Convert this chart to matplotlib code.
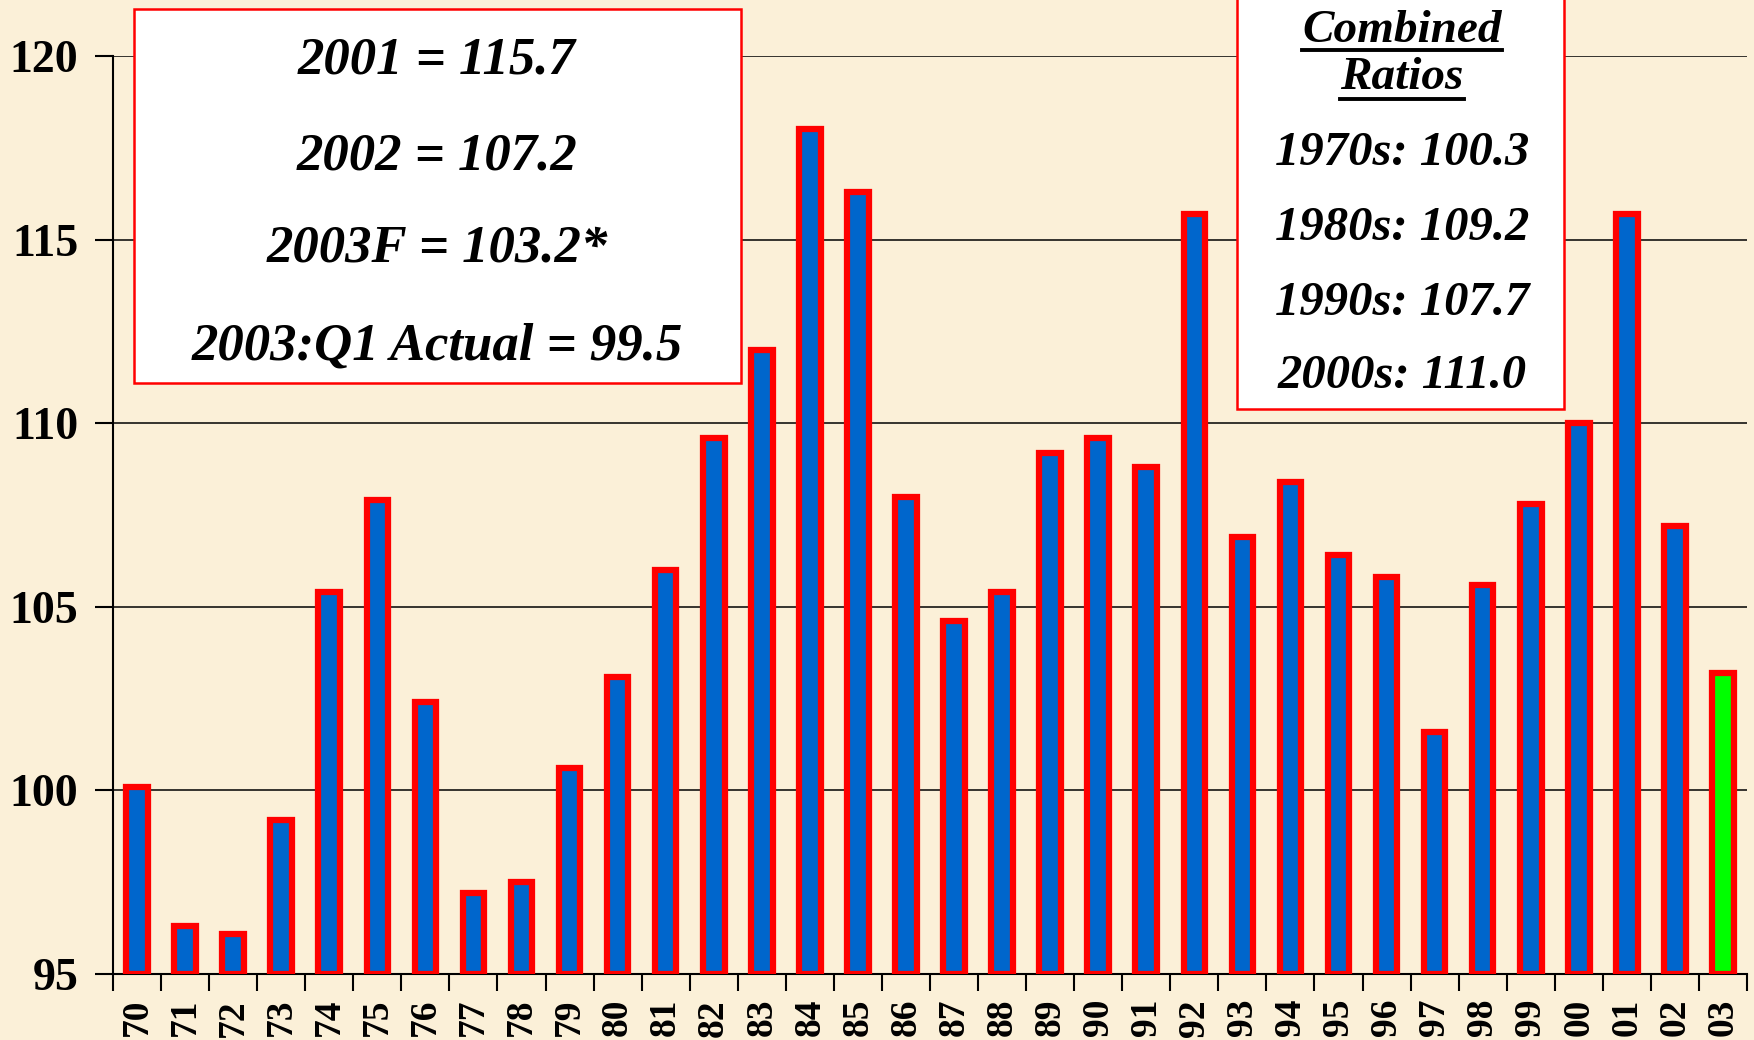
import matplotlib
matplotlib.use("Agg")
import matplotlib.pyplot as plt
from matplotlib.patches import Rectangle
from matplotlib.lines import Line2D

# combined ratios by year (1970 - 2003F)
years = ['70', '71', '72', '73', '74', '75', '76', '77', '78', '79',
         '80', '81', '82', '83', '84', '85', '86', '87', '88', '89',
         '90', '91', '92', '93', '94', '95', '96', '97', '98', '99',
         '00', '01', '02', '03']
ratios = [100.1, 96.3, 96.1, 99.2, 105.4, 107.9, 102.4, 97.2, 97.5, 100.6,
          103.1, 106.0, 109.6, 112.0, 118.0, 116.3, 108.0, 104.6, 105.4, 109.2,
          109.6, 108.8, 115.7, 106.9, 108.4, 106.4, 105.8, 101.6, 105.6, 107.8,
          110.0, 115.7, 107.2, 103.2]
forecast_year = '03'

left_box_lines = ['2001 = 115.7', '2002 = 107.2', '2003F = 103.2*',
                  '2003:Q1 Actual = 99.5']
right_box_title = ['Combined', 'Ratios']
right_box_lines = ['1970s: 100.3', '1980s: 109.2', '1990s: 107.7',
                   '2000s: 111.0']

W, H = 1754, 1040
bg = '#FBF0D8'


def fx(px):
    return px / W


def fy(py):
    return 1 - py / H


fig = plt.figure(figsize=(W / 100, H / 100), dpi=100, facecolor=bg)
ax = fig.add_axes([fx(113), fy(974), fx(1747) - fx(113), fy(56) - fy(974)])
ax.set_facecolor(bg)

x = list(range(len(years)))
colors = ['#00FF00' if y == forecast_year else '#0066CC' for y in years]
ax.bar(x, [r - 95 for r in ratios], bottom=95, width=0.45, color=colors,
       edgecolor='#FF0000', linewidth=4.5, zorder=3)

ax.set_ylim(95, 120)
ax.set_xlim(-0.5, len(years) - 0.5)
ax.set_yticks([95, 100, 105, 110, 115, 120])
ax.yaxis.grid(True, color='black', linewidth=1.1, zorder=0)
ax.set_axisbelow(True)

ax.set_xticks(x)
ax.set_xticklabels(years, rotation=90, fontsize=27, fontweight='bold',
                   family='Liberation Serif')
ax.set_xticks([i - 0.5 for i in range(len(years) + 1)], minor=True)
ax.tick_params(axis='x', which='major', length=0, pad=18)
ax.tick_params(axis='x', which='minor', length=12, width=1.5, direction='out')
ax.tick_params(axis='y', length=13, width=1.5, direction='out', pad=12)
for lab in ax.get_yticklabels():
    lab.set_fontsize(33)
    lab.set_fontweight('bold')
    lab.set_family('Liberation Serif')

for s in ['top', 'right']:
    ax.spines[s].set_visible(False)
ax.spines['left'].set_linewidth(1.5)
ax.spines['bottom'].set_linewidth(1.5)

# left info box
fig.add_artist(Rectangle((fx(134), fy(383)), fx(741) - fx(134), fy(9) - fy(383),
                         transform=fig.transFigure, facecolor='white',
                         edgecolor='#FF0000', linewidth=1.8, zorder=5))
for txt, ypx in zip(left_box_lines, [61, 156, 249, 347]):
    fig.text(fx(437), fy(ypx), txt, ha='center', va='center', fontsize=38,
             fontweight='bold', style='italic', family='Liberation Serif',
             zorder=6)

# right info box
fig.add_artist(Rectangle((fx(1237), fy(409)), fx(1564) - fx(1237), fy(-5) - fy(409),
                         transform=fig.transFigure, facecolor='white',
                         edgecolor='#FF0000', linewidth=1.8, zorder=5))
title_texts = []
for txt, ypx in zip(right_box_title, [31, 78]):
    t = fig.text(fx(1402), fy(ypx), txt, ha='center', va='center', fontsize=34,
                 fontweight='bold', style='italic', family='Liberation Serif',
                 zorder=6)
    title_texts.append(t)
for txt, ypx in zip(right_box_lines, [153, 228, 303, 376]):
    fig.text(fx(1402), fy(ypx), txt, ha='center', va='center', fontsize=35,
             fontweight='bold', style='italic', family='Liberation Serif',
             zorder=6)

# underline the title words
fig.canvas.draw()
renderer = fig.canvas.get_renderer()
for t, ypx in zip(title_texts, [50, 99]):
    bb = t.get_window_extent(renderer)
    fig.add_artist(Line2D([bb.x0 / W, bb.x1 / W], [fy(ypx), fy(ypx)],
                          transform=fig.transFigure, color='black',
                          linewidth=2.8, zorder=6))

fig.savefig('out.png', dpi=100, facecolor=bg)
